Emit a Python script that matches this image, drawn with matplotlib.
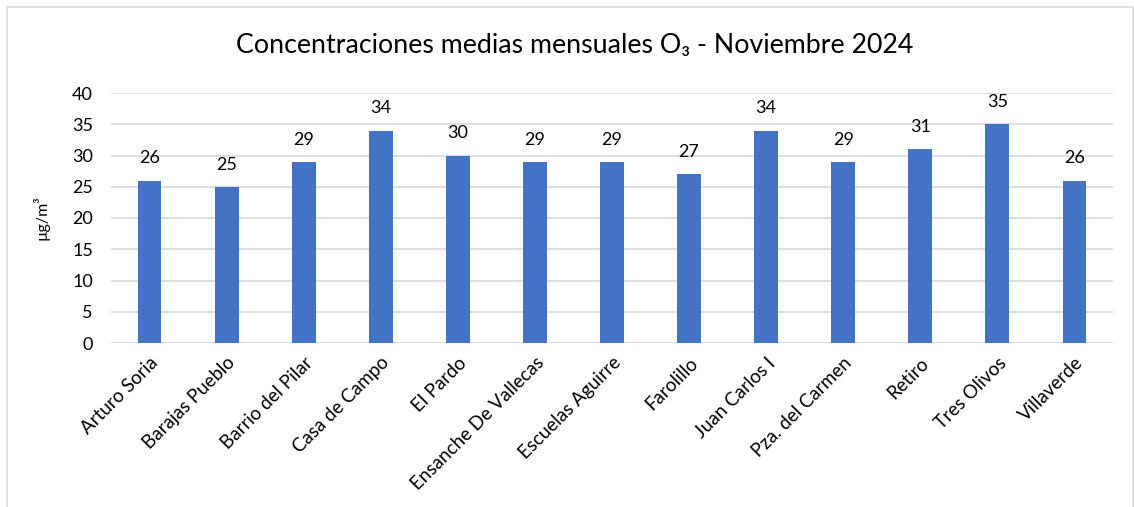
import matplotlib
matplotlib.use("Agg")
import matplotlib.pyplot as plt
from matplotlib.patches import Rectangle

plt.rcParams['font.family'] = ['Lato', 'DejaVu Sans']

stations = ["Arturo Soria", "Barajas Pueblo", "Barrio del Pilar", "Casa de Campo",
            "El Pardo", "Ensanche De Vallecas", "Escuelas Aguirre", "Farolillo",
            "Juan Carlos I", "Pza. del Carmen", "Retiro", "Tres Olivos", "Villaverde"]
values = [26, 25, 29, 34, 30, 29, 29, 27, 34, 29, 31, 35, 26]
yticks = [0, 5, 10, 15, 20, 25, 30, 35, 40]

W, H = 1134, 507
fig = plt.figure(figsize=(W / 100, H / 100), dpi=100)
fig.patches.append(Rectangle((7 / W, -0.01), (1133 - 7) / W, 1 - 7 / H + 0.01,
                             transform=fig.transFigure, fill=False,
                             edgecolor='#d9d9d9', linewidth=1.2))

ax = fig.add_axes([111 / W, 1 - 343 / H, (1113 - 111) / W, (343 - 93) / H])
x = list(range(len(stations)))
ax.bar(x, values, width=0.31, color='#4472C4', zorder=3)
ax.set_xlim(-0.5, len(stations) - 0.5)
ax.set_ylim(0, 40)
ax.set_yticks(yticks)
ax.set_yticklabels([str(t) for t in yticks], fontsize=13)
ax.grid(axis='y', color='#d9d9d9', linewidth=1.2, zorder=0)
for s in ax.spines.values():
    s.set_visible(False)
ax.tick_params(axis='both', length=0, colors='#000000')
ax.tick_params(axis='y', pad=13)
ax.set_xticks(x)
ax.set_xticklabels(stations, rotation=45, ha='right', rotation_mode='anchor', fontsize=13.5)
ax.tick_params(axis='x', pad=8)

for xi, v in zip(x, values):
    ax.annotate(str(v), (xi, v), xytext=(0, 16), textcoords='offset points',
                ha='center', va='center', fontsize=13)

ax.set_ylabel('µg/m³', fontsize=11.5, labelpad=16)
fig.text(575 / W, 1 - 45 / H, 'Concentraciones medias mensuales O₃ - Noviembre 2024',
         ha='center', va='center', fontsize=19.3)

fig.savefig('out.png', dpi=100)
